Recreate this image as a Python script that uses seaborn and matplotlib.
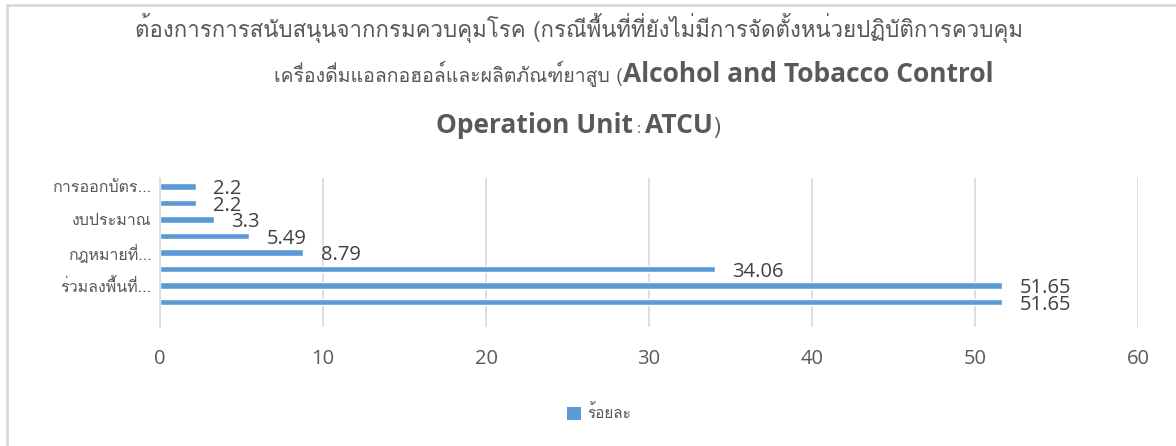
import numpy as np
import pandas as pd
import matplotlib
matplotlib.use("Agg")
import matplotlib.pyplot as plt
import seaborn as sns
from matplotlib import font_manager as fm
from matplotlib.ft2font import FT2Font
from matplotlib.patches import Rectangle
from matplotlib.lines import Line2D

# ---------------- data ----------------
categories = ["c9", "c8", "c7", "c6", "c5", "c4", "c3", "c2", "c1"]
tick_labels = ["การออกบัตร...", "", "งบประมาณ", "", "กฎหมายที่...", "", "ร่วมลงพื้นที่...", "", ""]
values = [2.2, 2.2, 3.3, 5.49, 8.79, 34.06, 51.65, 51.65, None]
value_labels = ["2.2", "2.2", "3.3", "5.49", "8.79", "34.06", "51.65", "51.65", ""]
series_name = "ร้อยละ"
x_ticks = [0, 10, 20, 30, 40, 50, 60]
title_lines = [
    [("ต้องการการสนับสนุนจากกรมควบคุมโรค (กรณีพื้นที่ที่ยังไม่มีการจัดตั้งหน่วยปฏิบัติการควบคุม", "thai")],
    [("เครื่องดื่มแอลกอฮอล์และผลิตภัณฑ์ยาสูบ (", "thai2"), ("Alcohol and Tobacco Control", "en")],
    [("Operation Unit", "en"), (" : ", "small"), ("ATCU", "en"), (")", "thai")],
]

# ---------------- fonts ----------------
thai_family = None
for f in fm.fontManager.ttflist:
    try:
        cm = FT2Font(f.fname).get_charmap()
        if 0x0E01 in cm and 0x0E49 in cm:
            thai_family = f.name
            break
    except Exception:
        pass

sns.set_theme(style="white")
fams = ([thai_family] if thai_family else []) + ["Open Sans", "DejaVu Sans"]
plt.rcParams["font.family"] = fams

GRAY = "#595959"
BLUE = "#5B9BD5"
GRID = "#D9D9D9"

W, H = 1176, 446
fig = plt.figure(figsize=(W / 100, H / 100), dpi=100)
fig.patch.set_facecolor("white")

ax = fig.add_axes([160 / W, 1 - 327 / H, 978 / W, 149 / H])

df = pd.DataFrame({"cat": categories, "val": values}).dropna()
sns.barplot(data=df, x="val", y="cat", order=categories, orient="h",
            color=BLUE, width=0.4, saturation=1, ax=ax)

ax.set_xlim(0, 60)
ax.set_ylim(len(categories) - 0.5, -0.5)
ax.set_xticks(x_ticks)
ax.set_xticklabels([str(t) for t in x_ticks], color=GRAY, fontsize=14.5,
                   family=["Open Sans", "DejaVu Sans"])
ax.set_yticks(range(len(categories)))
ax.set_yticklabels(tick_labels, color=GRAY, fontsize=11.5)
ax.tick_params(axis="both", length=0)
ax.tick_params(axis="x", pad=16)
ax.tick_params(axis="y", pad=6)
ax.set_xlabel("")
ax.set_ylabel("")
for s in ["top", "right", "bottom"]:
    ax.spines[s].set_visible(False)
ax.spines["left"].set_color(GRID)
ax.spines["left"].set_linewidth(1.2)
ax.xaxis.grid(True, color=GRID, linewidth=1.2)
ax.set_axisbelow(True)

for i, (v, lab) in enumerate(zip(values, value_labels)):
    if v is None or lab == "":
        continue
    ax.annotate(lab, xy=(v, i), xytext=(12.5, -2), textcoords="offset points",
                ha="left", va="center", fontsize=14.5, color="#404040",
                family=["Open Sans", "DejaVu Sans"])

# legend
handle = Rectangle((0, 0), 1, 1, facecolor=BLUE, edgecolor="none")
fig.legend([handle], [series_name], loc="center", bbox_to_anchor=(599 / W, 1 - 413 / H),
           frameon=False, fontsize=11, handlelength=0.9, handleheight=0.9,
           handletextpad=0.4, labelcolor=GRAY)

# frame
fig.add_artist(Line2D([7 / W, 7 / W], [0, 1 - 5 / H], color=GRID, lw=2, transform=fig.transFigure))
fig.add_artist(Line2D([7 / W, 1], [1 - 5 / H, 1 - 5 / H], color=GRID, lw=2, transform=fig.transFigure))

# title, mixed fonts
styles = {
    "thai": dict(fontsize=16, family=fams, color=GRAY),
    "thai2": dict(fontsize=14, family=fams, color=GRAY),
    "en": dict(fontsize=19, family=["Open Sans", "DejaVu Sans"], weight="bold", color=GRAY),
    "small": dict(fontsize=11, family=["Open Sans", "DejaVu Sans"], color=GRAY),
}
baselines = [37, 82, 133]
centers = [579, 634, 578]
renderer = fig.canvas.get_renderer()
for line, yb, cx in zip(title_lines, baselines, centers):
    texts = []
    widths = []
    for txt, st in line:
        t = fig.text(0, 1 - yb / H, txt, ha="left", va="baseline", **styles[st])
        bb = t.get_window_extent(renderer)
        texts.append(t)
        widths.append(bb.width)
    total = sum(widths)
    x = cx - total / 2
    for t, w in zip(texts, widths):
        t.set_x(x / W)
        x += w

fig.savefig("out.png", dpi=100, facecolor="white")
